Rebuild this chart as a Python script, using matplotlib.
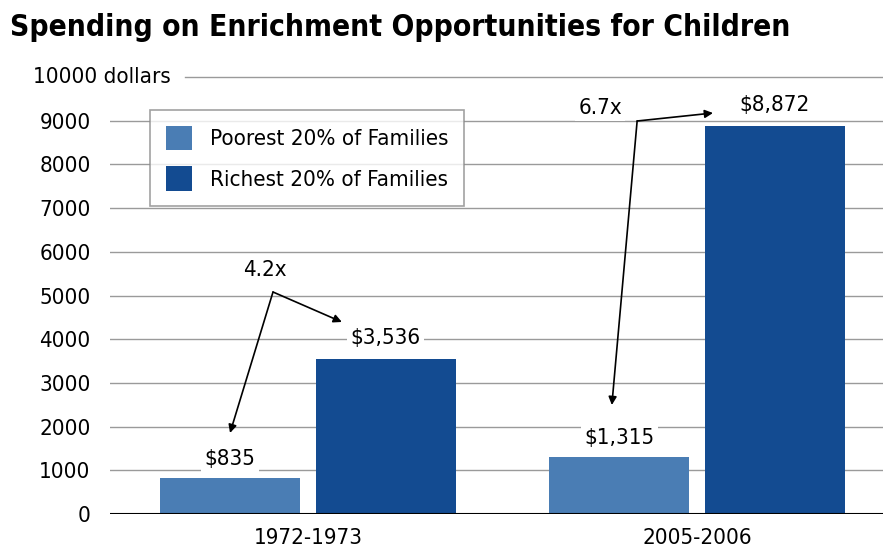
import matplotlib
matplotlib.use("Agg")
import matplotlib.pyplot as plt
import matplotlib.font_manager as fm
import numpy as np
import os

periods = ["1972-1973", "2005-2006"]
series_names = ["Poorest 20% of Families", "Richest 20% of Families"]
poorest = [835, 1315]
richest = [3536, 8872]
value_labels_poor = ["$835", "$1,315"]
value_labels_rich = ["$3,536", "$8,872"]
ratio_labels = ["4.2x", "6.7x"]
yticks = [0, 1000, 2000, 3000, 4000, 5000, 6000, 7000, 8000, 9000, 10000]

# find a condensed / narrow font if one exists
def find_condensed(bold=False):
    cands = []
    for f in fm.fontManager.ttflist:
        base = os.path.basename(f.fname).lower()
        is_cond = ("condensed" in base or "narrow" in base or "cond" in base
                   or str(f.stretch) in ("condensed", "semi-condensed", "extra-condensed")
                   or (isinstance(f.stretch, int) and f.stretch < 500))
        if not is_cond or "italic" in base or "oblique" in base:
            continue
        w = f.weight if isinstance(f.weight, int) else (700 if "bold" in str(f.weight) else 400)
        if bold and w < 600:
            continue
        if not bold and w >= 600:
            continue
        if "light" in base or "thin" in base or "black" in base or "extra" in base and "condensed" not in base:
            continue
        cands.append(f)
    return cands[0] if cands else None

reg = find_condensed(False)
bld = find_condensed(True)
if reg is not None:
    body_fp = dict(fname=reg.fname)
    scale = 1.0
else:
    body_fp = None
    scale = 0.9

def fp(size, bold=False):
    f = bld if bold else reg
    if f is not None:
        return fm.FontProperties(fname=f.fname, size=size)
    return fm.FontProperties(family="DejaVu Sans", size=size, weight="bold" if bold else "normal")

c_poor = "#4A7DB4"
c_rich = "#134B91"
FS = 16 * scale

W, H = 883, 559
fig = plt.figure(figsize=(W/100, H/100), dpi=100)
ax = fig.add_axes([110/W, (H-514)/H, (883-110)/W, (514-77)/H])

x = np.arange(len(periods))
bw = 0.36
off = 0.2
b1 = ax.bar(x - off, poorest, bw, color=c_poor, label=series_names[0], zorder=3)
b2 = ax.bar(x + off, richest, bw, color=c_rich, label=series_names[1], zorder=3)

ax.set_xlim(-0.509, 1.478)
ax.set_ylim(0, 10000)
for s in ax.spines.values():
    s.set_visible(False)
ax.axhline(0, color="black", lw=1.5, zorder=4)
for v in yticks[1:-1]:
    ax.axhline(v, color="#9a9a9a", lw=1.0, zorder=1)
ax.axhline(10000, xmin=(185-110)/773, xmax=1, color="#9a9a9a", lw=1.0, zorder=1, clip_on=False)

ax.set_yticks(yticks[:-1])
ax.set_yticklabels([str(v) for v in yticks[:-1]])
for t in ax.get_yticklabels():
    t.set_fontproperties(fp(FS))
ax.tick_params(axis="y", length=0, pad=14)
ax.text((33-110)/773, 10000, str(yticks[-1]) + " dollars", transform=ax.get_yaxis_transform(),
        ha="left", va="center", fontproperties=fp(FS))

ax.set_xticks(x)
ax.set_xticklabels(periods)
for t in ax.get_xticklabels():
    t.set_fontproperties(fp(FS))
ax.tick_params(axis="x", length=0, pad=10)

bbox = dict(boxstyle="square,pad=0.15", fc="white", ec="none")
for rect, lab in zip(b1, value_labels_poor):
    ax.annotate(lab, (rect.get_x() + rect.get_width()/2, rect.get_height()),
                xytext=(0, 6), textcoords="offset points", ha="center", va="bottom",
                fontproperties=fp(FS), bbox=bbox, zorder=5)
for rect, lab in zip(b2, value_labels_rich):
    ax.annotate(lab, (rect.get_x() + rect.get_width()/2, rect.get_height()),
                xytext=(0, 8), textcoords="offset points", ha="center", va="bottom",
                fontproperties=fp(FS), bbox=bbox, zorder=5)

arrow_kw = dict(arrowstyle="-|>", color="black", lw=1.2, mutation_scale=12, shrinkA=0, shrinkB=0)
annos = [
    dict(text=(-0.1105, 5584), vertex=(-0.090, 5080), right=(0.087, 4394), down=(-0.2005, 1854)),
    dict(text=(0.751, 9290), vertex=(0.846, 8993), right=(1.041, 9176), down=(0.781, 2494)),
]
for a, lab in zip(annos, ratio_labels):
    ax.text(*a["text"], lab, ha="center", va="center", fontproperties=fp(FS), bbox=bbox, zorder=5)
    ax.annotate("", xy=a["right"], xytext=a["vertex"], arrowprops=arrow_kw, zorder=6)
    ax.annotate("", xy=a["down"], xytext=a["vertex"], arrowprops=arrow_kw, zorder=6)

leg = ax.legend(loc="upper left", bbox_to_anchor=((150-110)/773, (514-110)/437),
                prop=fp(FS), frameon=True, fancybox=False, edgecolor="#8a8a8a",
                handlelength=1.2, handleheight=1.3, borderpad=0.7, labelspacing=0.75,
                handletextpad=0.8, borderaxespad=0)
leg.get_frame().set_linewidth(1.2)
leg.set_zorder(7)

title = fig.text(10/W, 1 - 28/H, "Spending on Enrichment Opportunities for Children",
                 fontproperties=fp(27, bold=True), ha="left", va="center")
# shrink title to fit the reference width (~780 px)
fig.canvas.draw()
tw = title.get_window_extent().width
if tw > 780:
    title.set_fontproperties(fp(27 * 780 / tw, bold=True))

fig.savefig("out.png", dpi=100)
